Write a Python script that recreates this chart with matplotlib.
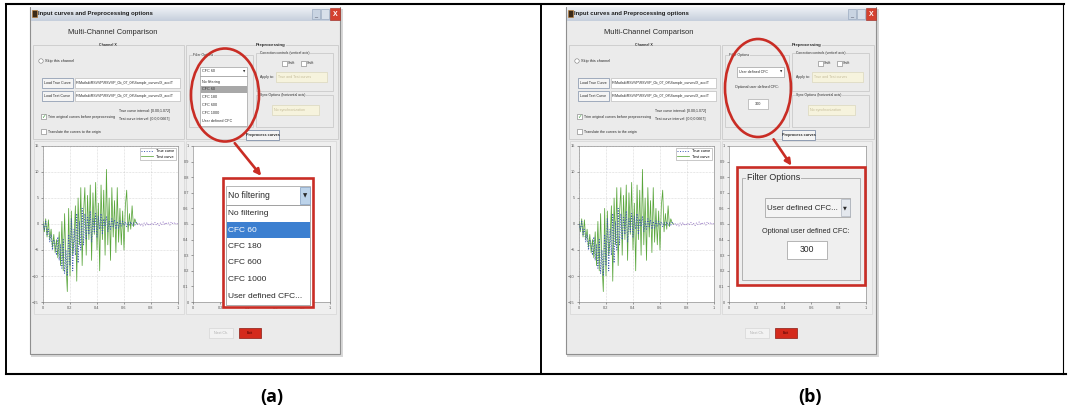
import numpy as np
import matplotlib.pyplot as plt
from matplotlib.patches import Rectangle, Ellipse, Circle, FancyArrowPatch

W, H = 1070, 413

# acceleration samples, 0.01 s apart
dt = 0.01
test_curve = [0.5, -1.5, 1.0, -2.5, 0.8, -3.0, -1.0, -4.5, -2.0, -5.5,
              -3.0, -6.5, -1.5, -8.0, 0.5, -9.0, 2.0, -7.5, -13.0, 3.0,
              -10.0, 2.5, -6.0, -3.0, 3.5, -11.0, 5.0, -4.0, 7.0, -8.0,
              2.0, 7.0, -6.0, 5.5, -3.0, 7.5, -7.0, 6.0, -2.0, 8.0,
              -5.0, 4.0, -9.0, 7.5, -3.0, 6.5, -6.0, 10.5, -4.0, 5.0,
              -7.0, 7.0, -2.5, 4.5, -5.5, 7.0, -3.5, 3.0, -4.0, 2.5,
              -5.0, 3.5, 6.5, -1.5, 2.0, -1.0, 3.5, -0.5, 1.0, 0.2,
              0.0]
true_curve = [0.0, -1.0, 0.5, -2.0, -1.0, -3.5, -2.0, -5.0, -3.0, -4.0, -6.0,
              -2.5, -7.0, -4.0, -8.5, -3.0, -9.5, -5.0, -10.0, -2.0, -8.0,
              1.0, -9.0, -1.0, -6.0, 2.0, -7.5, 0.5, -5.0, 3.0, -4.0,
              2.0, -3.0, 1.5, -2.0, 2.5, -3.5, 1.0, -1.5, 2.0, -2.5,
              1.5, -1.0, 2.0, -2.0, 1.0, -0.5, 1.5, -1.5, 0.5, -1.0,
              1.0, -0.5, 0.8, -1.0, 0.5, -0.8, 0.6, -0.4, 0.5, -0.3,
              0.4, -0.5, 0.3, -0.2, 0.4, -0.3, 0.2, -0.2, 0.3, -0.1,
              0.2, -0.3, 0.1, -0.4, 0.2, -0.2, 0.3, -0.3, 0.1, -0.2,
              0.2, -0.1, 0.3, -0.2, 0.1, -0.3, 0.2, -0.1, 0.4, -0.2,
              0.3, 0.0, 0.2, -0.2, 0.4, 0.1, 0.3, -0.1, 0.2, 0.0]
legend_labels = ["True curve", "Test curve"]
left_yticks = [-15, -10, -5, 0, 5, 10, 15]
right_yticks = [0, 0.1, 0.2, 0.3, 0.4, 0.5, 0.6, 0.7, 0.8, 0.9, 1]
xticks = [0, 0.2, 0.4, 0.6, 0.8, 1]
filter_items = ["No filtering", "CFC 60", "CFC 180", "CFC 600", "CFC 1000", "User defined CFC..."]
selected = 1
user_cfc = "300"
captions = ["(a)", "(b)"]
path = "F:\\Matlab\\RSVVP\\RSVVP_0b_07_08\\Sample_curves\\X_acc\\T"

GUI = ['Liberation Sans', 'DejaVu Sans']
RED = '#c92d25'
INK = '#2a2a2a'

fig = plt.figure(figsize=(W / 100, H / 100), dpi=100)
fig.patch.set_facecolor('white')


def pix_axes(x0, y0, x1, y1, **kw):
    return fig.add_axes([x0 / W, 1 - y1 / H, (x1 - x0) / W, (y1 - y0) / H], **kw)


def canvas(z):
    ax = fig.add_axes([0, 0, 1, 1], zorder=z)
    ax.set_xlim(0, W)
    ax.set_ylim(H, 0)
    ax.axis('off')
    ax.patch.set_alpha(0)
    return ax


def box(ax, x0, y0, x1, y1, fc='none', ec='none', lw=0.5, z=1):
    ax.add_patch(Rectangle((x0, y0), x1 - x0, y1 - y0, fc=fc, ec=ec, lw=lw, zorder=z))


def txt(ax, x, y, s, size=3.2, ha='left', color=INK, family=GUI, weight='normal', z=3):
    ax.text(x, y, s, fontsize=size, ha=ha, va='center', color=color,
            family=family, weight=weight, zorder=z)


def group(ax, x0, y0, x1, y1, label, lx, bold=False, size=2.6, center=False):
    box(ax, x0, y0, x1, y1, ec='#c4c4c4', lw=0.5)
    ax.text(lx, y0, label, fontsize=size, ha='center' if center else 'left', va='center',
            color=INK, family=GUI, weight='bold' if bold else 'normal', zorder=3,
            bbox=dict(fc='#ebebeb', ec='none', pad=0.3))


def window(ax, ox, mode):
    X = lambda v: v + ox
    box(ax, X(31), 9, X(343), 357, fc='#d8d8d8', z=0.5)  # shadow
    box(ax, X(30), 7, X(340), 354, fc='#ebebeb', ec='#8f8f8f', lw=0.8)
    # title bar
    grad = np.linspace(0, 1, 20).reshape(-1, 1)
    ax.imshow(grad, cmap=plt.matplotlib.colors.LinearSegmentedColormap.from_list(
        'tb', ['#eef1f5', '#c6cfdc']), extent=(X(30.5), X(339.5), 21, 7.5),
        aspect='auto', zorder=1.5)
    box(ax, X(32), 10, X(37), 17, fc='#3b2a18', ec='#c07a2a', lw=0.4, z=2)
    txt(ax, X(38.5), 14, "Input curves and Preprocessing options", size=4.3,
        weight='bold', color='#1e1e1e')
    box(ax, X(312), 9, X(320), 19, fc='#c9d4e2', ec='#8ea0b8', lw=0.4, z=2)
    box(ax, X(321), 9, X(329), 19, fc='#d8e0ea', ec='#8ea0b8', lw=0.4, z=2)
    box(ax, X(330), 8, X(340), 20, fc='#d4412f', ec='#a02a20', lw=0.4, z=2)
    txt(ax, X(335), 14, "X", size=5, ha='center', color='white', weight='bold')
    txt(ax, X(316), 15.5, "_", size=4, ha='center', color='#334')
    txt(ax, X(113), 32, "Multi-Channel Comparison", size=5.4, ha='center')

    # Channel X group
    group(ax, X(33), 45, X(184), 139, "Channel X", X(108), bold=True, center=True)
    ax.add_patch(Circle((X(41), 61), 2.2, fc='white', ec='#777', lw=0.4, zorder=2))
    txt(ax, X(45), 61, "Skip this channel", size=2.8)
    for y0, lab in [(78, "Load True Curve"), (91, "Load Test Curve")]:
        box(ax, X(42), y0, X(73), y0 + 10, fc='#f4f4f4', ec='#7f8fa8', lw=0.5, z=2)
        txt(ax, X(57.5), y0 + 5, lab, size=2.6, ha='center')
        box(ax, X(75), y0, X(180), y0 + 10, fc='white', ec='#b0b0b0', lw=0.4, z=2)
        txt(ax, X(76), y0 + 5, path, size=2.5)
    box(ax, X(41), 114, X(46), 119, fc='white', ec='#777', lw=0.4, z=2)
    txt(ax, X(43.5), 116.5, "\u2713", size=4, ha='center', color='#3a9a3a', family=['DejaVu Sans'])
    txt(ax, X(48), 117, "Trim original curves before preprocessing", size=2.6)
    txt(ax, X(119), 111, "True curve interval: [0.00;1.072]", size=2.6)
    txt(ax, X(119), 119, "Test curve interval: [0.0;0.0667]", size=2.6)
    box(ax, X(41), 129, X(46), 134, fc='white', ec='#777', lw=0.4, z=2)
    txt(ax, X(48), 131.5, "Translate the curves to the origin", size=2.6)

    # Preprocessing group
    group(ax, X(186), 45, X(338), 139, "Preprocessing", X(271), bold=True, size=3.2, center=True)
    group(ax, X(189), 55, X(253), 127, "Filter Options", X(193), size=2.4)
    if mode == 'a':
        box(ax, X(200), 67, X(247), 76, fc='white', ec='#8a8a8a', lw=0.4, z=2)
        txt(ax, X(202), 71.5, "CFC 60", size=2.7)
        txt(ax, X(244), 71.5, "\u25bc", size=2.2, ha='center', family=['DejaVu Sans'])
        box(ax, X(200), 76, X(247), 126, fc='white', ec='#8a8a8a', lw=0.4, z=2)
        for i, item in enumerate(filter_items):
            yy = 81.5 + 7.8 * i
            if i == selected:
                box(ax, X(200.5), yy - 3.8, X(246.5), yy + 3.8, fc='#a8a8a8', z=2.5)
            txt(ax, X(202), yy, item.rstrip('.'), size=2.7)
    else:
        box(ax, X(201), 67, X(248), 77, fc='white', ec='#8a8a8a', lw=0.4, z=2)
        txt(ax, X(203), 72, filter_items[-1].rstrip('.'), size=2.6)
        txt(ax, X(245), 72, "\u25bc", size=2.2, ha='center', family=['DejaVu Sans'])
        txt(ax, X(221), 87, "Optional user defined CFC:", size=2.6, ha='center')
        box(ax, X(212), 99, X(232), 109, fc='white', ec='#9a9a9a', lw=0.4, z=2)
        txt(ax, X(222), 104, user_cfc, size=2.8, ha='center')
    group(ax, X(256), 53, X(333), 91, "Correction controls (vertical axis)", X(260), size=2.4)
    for cx in (X(282), X(301)):
        box(ax, cx, 61, cx + 4.5, 66, fc='white', ec='#777', lw=0.4, z=2)
        txt(ax, cx + 6, 63.5, "Shift", size=2.6)
    txt(ax, X(260), 77, "Apply to:", size=2.5)
    box(ax, X(276), 72, X(327), 82, fc='#f6f3dd', ec='#d6d1b4', lw=0.4, z=2)
    txt(ax, X(278), 77, "True and Test curves", size=2.5, color='#c4bb98')
    group(ax, X(256), 95, X(333), 127, "Sync Options (horizontal axis)", X(260), size=2.4)
    box(ax, X(272), 105, X(319), 115, fc='#f6f3dd', ec='#d6d1b4', lw=0.4, z=2)
    txt(ax, X(274), 110, "No synchronization", size=2.6, color='#c4bb98')
    box(ax, X(246), 130, X(279), 140, fc='#f4f4f4', ec='#7f8fa8', lw=0.6, z=2)
    txt(ax, X(262.5), 135, "Preprocess curves", size=2.7, ha='center', weight='bold')

    # plot panels and bottom buttons
    box(ax, X(34), 141, X(184), 314, fc='#efefef', ec='#d0d0d0', lw=0.4)
    box(ax, X(186), 141, X(336), 314, fc='#efefef', ec='#d0d0d0', lw=0.4)
    box(ax, X(209), 328, X(233), 338, fc='#f2f2f2', ec='#d0d0d0', lw=0.4, z=2)
    txt(ax, X(221), 333, "Next Ch.", size=2.6, ha='center', color='#b0b0b0')
    box(ax, X(239), 328, X(261), 338, fc='#d42a1c', ec='#8a1a12', lw=0.5, z=2)
    txt(ax, X(250), 333, "Exit", size=2.6, ha='center', color='#400')


def plot_axes(ox):
    t_test = np.arange(len(test_curve)) * dt
    t_true = np.arange(len(true_curve)) * dt
    ax = pix_axes(43 + ox, 146, 178 + ox, 302, zorder=2)
    ax.plot(t_test, test_curve, color='#5aa63c', lw=0.55, zorder=2, label=legend_labels[1])
    ax.plot(t_true[:71], true_curve[:71], color='#3c57b0', lw=0.7, ls=':', zorder=3,
            label=legend_labels[0])
    ax.plot(t_true[70:], true_curve[70:], color='#9a7cc6', lw=0.7, ls=':', zorder=3)
    ax.set_xlim(0, 1)
    ax.set_ylim(-15, 15)
    ax.set_xticks(xticks)
    ax.set_xticklabels([f"{v:g}" for v in xticks])
    ax.set_yticks(left_yticks)
    ax.grid(True, ls=':', lw=0.4, color='#b8b8b8')
    h, lab = ax.get_legend_handles_labels()
    leg = ax.legend(h[::-1], lab[::-1], loc='upper right', frameon=True,
                    handlelength=3, borderpad=0.4, labelspacing=0.3, fancybox=False,
                    edgecolor='#888', prop={'family': GUI, 'size': 2.8})
    leg.get_frame().set_linewidth(0.4)
    ax2 = pix_axes(193 + ox, 146, 330 + ox, 302, zorder=2)
    ax2.set_xlim(0, 1)
    ax2.set_ylim(0, 1)
    ax2.set_xticks(xticks)
    ax2.set_xticklabels([f"{v:g}" for v in xticks])
    ax2.set_yticks(right_yticks)
    ax2.set_yticklabels([f"{v:g}" for v in right_yticks])
    for a in (ax, ax2):
        a.tick_params(labelsize=2.8, length=1.5, width=0.4, colors='#555', pad=1.5)
        for s in a.spines.values():
            s.set_linewidth(0.4)
            s.set_color('#7a7a7a')
        for lb in a.get_xticklabels() + a.get_yticklabels():
            lb.set_family(GUI)


bg = canvas(0)
window(bg, 0, 'a')
window(bg, 536, 'b')
plot_axes(0)
plot_axes(536)

top = canvas(5)
# callout (a): open drop-down list
box(top, 223, 178, 313, 307, fc='white', ec=RED, lw=1.9, z=2)
box(top, 226, 186, 310, 205, fc='white', ec='#9a9a9a', lw=0.5, z=3)
txt(top, 228, 195.5, filter_items[0], size=6.2, z=4)
box(top, 300, 187, 309.5, 204, fc='#bcd3ea', ec='#7f9dc0', lw=0.5, z=4)
txt(top, 304.8, 195.5, "\u25bc", size=4, ha='center', family=['DejaVu Sans'], z=5)
box(top, 226, 205, 310, 305, fc='white', ec='#8a8a8a', lw=0.5, z=3)
for i, item in enumerate(filter_items):
    yy = 213.5 + 16.5 * i
    if i == selected:
        box(top, 226.5, yy - 8, 309.5, yy + 8, fc='#3c7fd0', z=3.5)
    txt(top, 228, yy, item, size=6.0, color='white' if i == selected else INK, z=4)
top.add_patch(Ellipse((225, 95), 68, 93, fill=False, ec=RED, lw=1.9, zorder=6))
top.add_patch(FancyArrowPatch((233, 141), (263, 178), arrowstyle='-|>', mutation_scale=9,
                              color=RED, lw=1.9, zorder=6))

# callout (b): filter options with user defined CFC
box(top, 737, 167, 865, 285, fc='#efefef', ec=RED, lw=1.9, z=2)
box(top, 742, 178, 860, 280, ec='#a8a8a8', lw=0.6, z=3)
top.text(747, 178, "Filter Options", fontsize=6.4, va='center', ha='left', family=GUI,
         color=INK, zorder=4, bbox=dict(fc='#efefef', ec='none', pad=0.6))
box(top, 765, 198, 850, 217, fc='#f4f4f4', ec='#9a9a9a', lw=0.5, z=3)
txt(top, 767, 208, filter_items[-1], size=5.8, z=4)
box(top, 841, 199, 849.5, 216, fc='#e4e8ee', ec='#a0a8b4', lw=0.4, z=4)
txt(top, 845, 207.5, "\u25bc", size=3.6, ha='center', family=['DejaVu Sans'], z=5)
txt(top, 806, 231.5, "Optional user defined CFC:", size=5.2, ha='center', z=4)
box(top, 787, 241, 827, 259, fc='white', ec='#9a9a9a', lw=0.5, z=3)
txt(top, 807, 250, user_cfc, size=6.2, ha='center', z=4)
top.add_patch(Ellipse((758, 88), 66, 98, fill=False, ec=RED, lw=1.9, zorder=6))
top.add_patch(FancyArrowPatch((772, 137), (793, 168), arrowstyle='-|>', mutation_scale=9,
                              color=RED, lw=1.9, zorder=6))

# table rules and captions
for x in (6, 541, 1063):
    top.plot([x, x], [4, 374], color='black', lw=1.4 if x < 1063 else 0.8, zorder=7)
top.plot([6, 1064], [4, 4], color='black', lw=1.5, zorder=7)
top.plot([6, 1066], [374, 374], color='black', lw=1.5, zorder=7)
for cx, cap in zip((272, 810), captions):
    top.text(cx, 397, cap, fontsize=13, weight='bold', ha='center', va='center',
             family=['Open Sans', 'DejaVu Sans'], color='black', zorder=7)

fig.savefig('out.png', dpi=100)
